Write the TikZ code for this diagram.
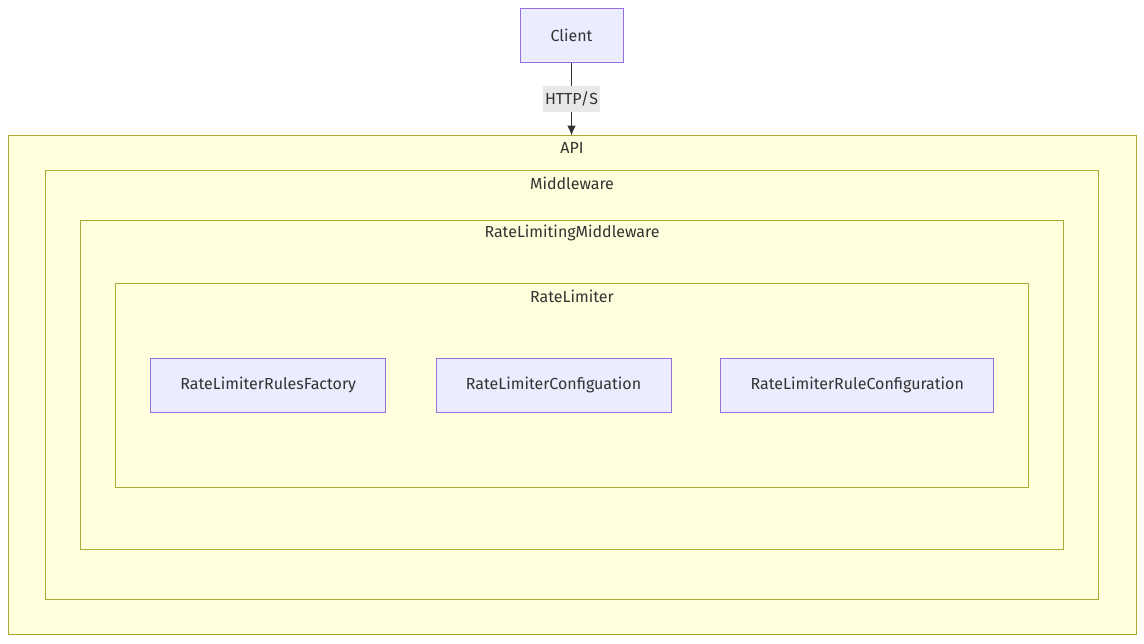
\documentclass[tikz,border=0pt]{standalone}
\usepackage{fontspec}
\setmainfont{Fira Sans}
\usetikzlibrary{arrows.meta}
\definecolor{nodefill}{HTML}{ECECFF}
\definecolor{nodeline}{HTML}{9370DB}
\definecolor{clusterfill}{HTML}{FFFFDE}
\definecolor{clusterline}{HTML}{AAAA33}
\definecolor{txt}{HTML}{333333}
\definecolor{labelbg}{HTML}{E8E8E8}
\tikzset{
  box/.style={draw=nodeline, fill=nodefill, line width=0.75pt, text=txt, minimum height=40.5pt, font=\fontsize{12}{14}\selectfont},
  cluster/.style={draw=clusterline, fill=clusterfill, line width=0.75pt},
  clustertitle/.style={text=txt, font=\fontsize{12}{14}\selectfont},
  edgelabel/.style={fill=labelbg, text=txt, inner xsep=1.5pt, inner ysep=4pt, font=\fontsize{12}{14}\selectfont},
}

\begin{document}
\begin{tikzpicture}[x=0.75pt, y=-0.75pt]
    \useasboundingbox (0,0) rectangle (1144,643);

    % clusters, outermost first
    \draw[cluster] (8,135.5) rectangle (1136,634.5);
    \node[clustertitle] (apititle) at (572,148) {API};
    \draw[cluster] (45,170.5) rectangle (1098.5,599.5);
    \node[clustertitle] (middlewaretitle) at (572,183) {Middleware};
    \draw[cluster] (80.5,220.5) rectangle (1063,549);
    \node[clustertitle] (rlmtitle) at (572,233) {RateLimitingMiddleware};
    \draw[cluster] (115.5,283.5) rectangle (1028.5,487);
    \node[clustertitle] (rltitle) at (572,296) {RateLimiter};

    % nodes
    \node[box, minimum width=77.25pt] (client) at (571.5,35) {Client};
    \node[box, minimum width=176.6pt] (rulesfactory) at (268.25,385) {RateLimiterRulesFactory};
    \node[box, minimum width=176.25pt] (configuation) at (553.5,385) {RateLimiterConfiguation};
    \node[box, minimum width=204.4pt] (ruleconfig) at (857.25,385) {RateLimiterRuleConfiguration};
    \coordinate (apitop) at (571.5,135.5);

    % connector
    \draw[txt, line width=0.9pt, -{Latex[length=7.5pt, width=6.5pt]}] (client) -- (apitop)
        node[pos=0.5, edgelabel] (httplabel) {HTTP/S};

\end{tikzpicture}
\end{document}
